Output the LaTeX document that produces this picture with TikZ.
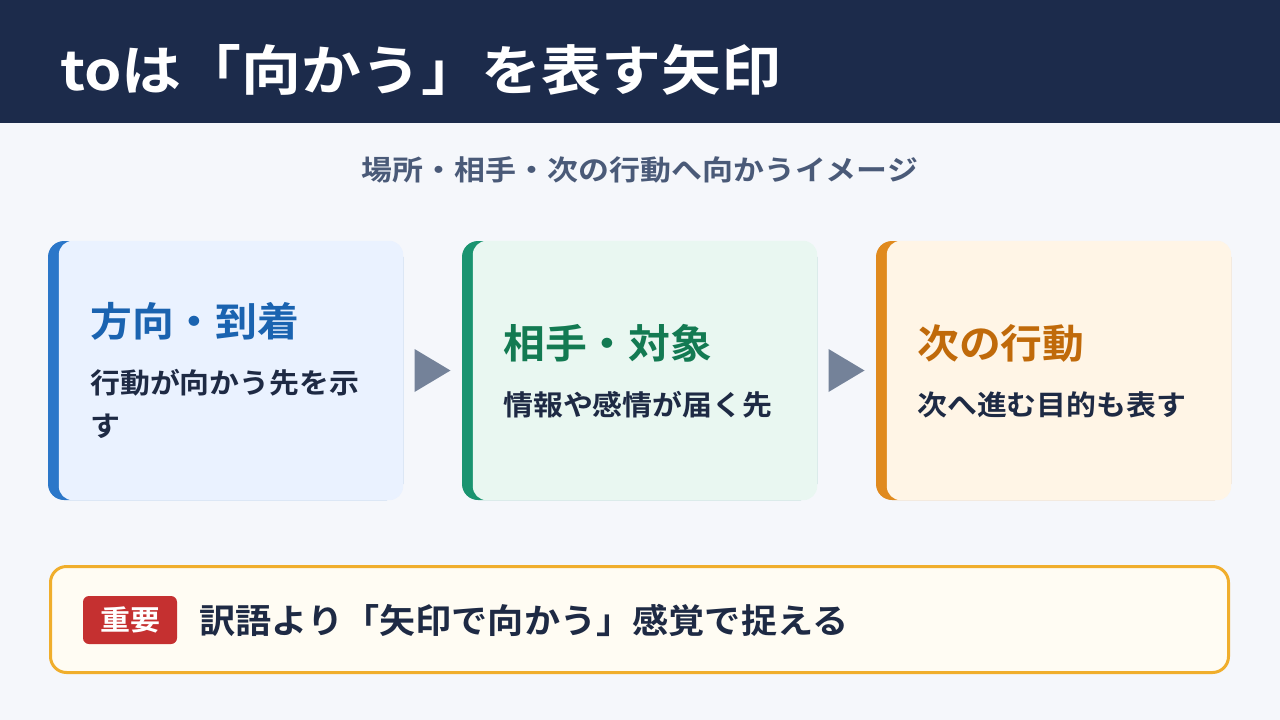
\documentclass[tikz,border=0pt]{standalone}
\usepackage{fontspec}
\usetikzlibrary{calc}
\setmainfont{Noto Sans CJK JP}[BoldFont={* Bold}]
\definecolor{hdr}{HTML}{1C2B4B}
\definecolor{pagebg}{HTML}{F5F7FB}
\definecolor{subc}{HTML}{4A5A78}
\definecolor{bodyc}{HTML}{1E2A44}
\definecolor{accA}{HTML}{2B77C9}
\definecolor{fillA}{HTML}{EAF2FF}
\definecolor{titA}{HTML}{1A63B0}
\definecolor{accB}{HTML}{1A9470}
\definecolor{fillB}{HTML}{E9F7F1}
\definecolor{titB}{HTML}{137A52}
\definecolor{accC}{HTML}{E08A1E}
\definecolor{fillC}{HTML}{FFF5E6}
\definecolor{titC}{HTML}{C06A0A}
\definecolor{arrc}{HTML}{748299}
\definecolor{notefill}{HTML}{FFFCF3}
\definecolor{notedraw}{HTML}{F0AE2C}
\definecolor{badgec}{HTML}{C53030}
\newcommand{\fsz}[3]{\fontsize{#1}{#2}\selectfont\bfseries\addfontfeature{FakeStretch=#3}}
\tikzset{
  card/.style={rounded corners=16pt, minimum width=355pt, minimum height=259pt, inner sep=0pt},
  cardtitle/.style={anchor=west, inner sep=0pt, font=\fsz{40}{48}{1.045}},
  cardbody/.style={anchor=west, inner sep=0pt, align=left, text=bodyc, font=\fsz{28}{43}{1.068}},
  tri/.style={fill=arrc},
}
\begin{document}
\begin{tikzpicture}[x=1pt,y=-1pt]
\useasboundingbox (0,0) rectangle (1280,720);
\fill[pagebg] (0,0) rectangle (1280,720);
\fill[hdr] (0,0) rectangle (1280,123);
\node[anchor=west, inner sep=0pt, text=white, font=\fsz{54}{60}{1.11}] (title) at (60,70) {toは「向かう」を表す矢印};
\node[inner sep=0pt, text=subc, font=\fsz{28}{34}{1.105}] (sub) at (640,170) {場所・相手・次の行動へ向かうイメージ};
% cards
\node[card, fill=accA] (c1) at (225.5,370.5) {};
\fill[fillA, rounded corners=14pt] ([xshift=11pt]c1.north west) rectangle (c1.south east);
\node[card, fill=accB] (c2) at (639.5,370.5) {};
\fill[fillB, rounded corners=14pt] ([xshift=11pt]c2.north west) rectangle (c2.south east);
\node[card, fill=accC] (c3) at (1053.5,370.5) {};
\fill[fillC, rounded corners=14pt] ([xshift=11pt]c3.north west) rectangle (c3.south east);
\node[cardtitle, text=titA] (t1) at (90,321) {方向・到着};
\node[cardbody] (b1) at (90,403.5) {行動が向かう先を示\\す};
\node[cardtitle, text=titB] (t2) at (503,343) {相手・対象};
\node[cardbody] (b2) at (503,405) {情報や感情が届く先};
\node[cardtitle, text=titC] (t3) at (917,343) {次の行動};
\node[cardbody] (b3) at (917,405) {次へ進む目的も表す};
% arrows
\coordinate (a1) at ($(c1.east)!0.5!(c2.west)$);
\coordinate (a2) at ($(c2.east)!0.5!(c3.west)$);
\fill[tri] ([shift={(-18,-21.5)}]a1) -- ([shift={(18,0)}]a1) -- ([shift={(-18,21.5)}]a1) -- cycle;
\fill[tri] ([shift={(-18,-21.5)}]a2) -- ([shift={(18,0)}]a2) -- ([shift={(-18,21.5)}]a2) -- cycle;
% note
\node[draw=notedraw, line width=3pt, fill=notefill, rounded corners=16pt, minimum width=1178pt, minimum height=106pt, inner sep=0pt] (note) at (639.5,619.5) {};
\node[fill=badgec, rounded corners=6pt, minimum width=94pt, minimum height=48pt, inner sep=0pt, text=white, font=\fsz{28}{32}{1.07}] (badge) at (130,620) {重要};
\node[anchor=west, inner sep=0pt, text=bodyc, font=\fsz{34}{40}{1.064}] (notetext) at (199,620) {訳語より「矢印で向かう」感覚で捉える};
\end{tikzpicture}
\end{document}
